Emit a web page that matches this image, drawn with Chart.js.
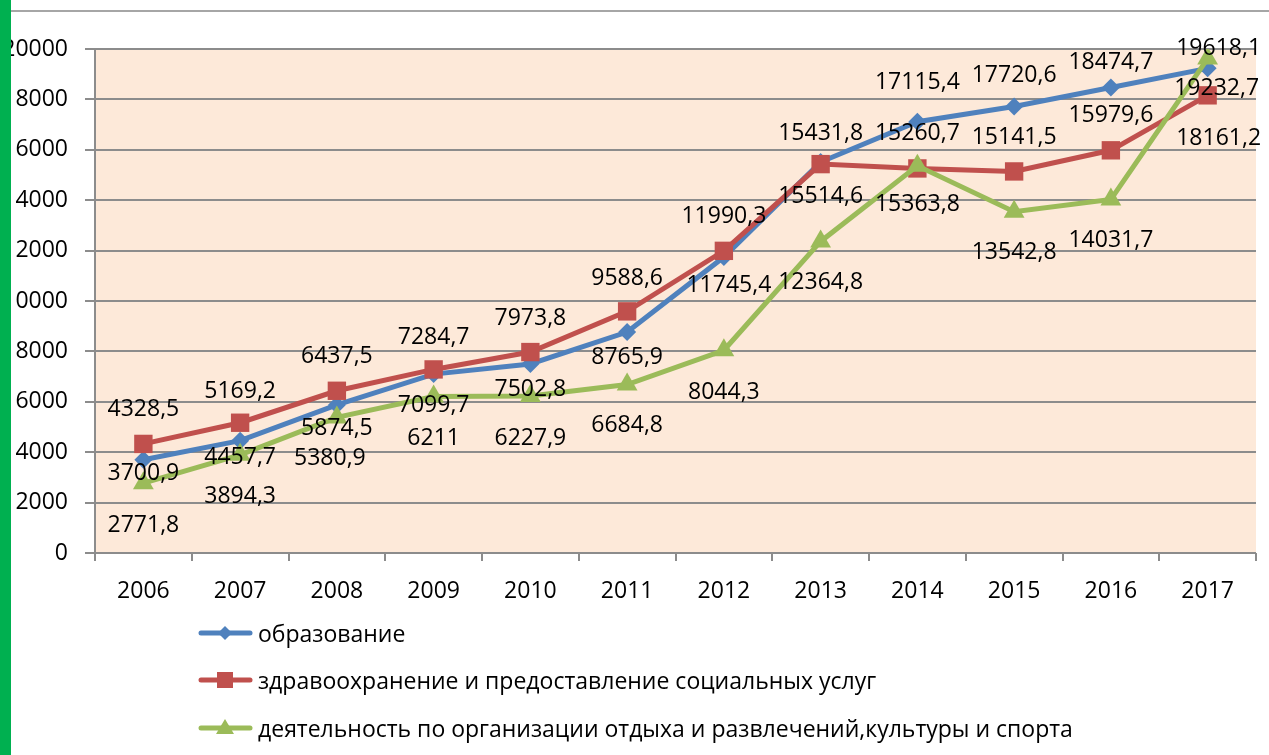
<!DOCTYPE html>
<html><head><meta charset="utf-8">
<script src="https://cdn.jsdelivr.net/npm/chart.js@4"></script>
<style>
html,body{margin:0;padding:0;background:#fff;width:1269px;height:755px;overflow:hidden;font-family:"Open Sans",sans-serif;}
#wrap{position:relative;width:1269px;height:755px;}
#c{position:absolute;left:0;top:0;}
#greenbar{position:absolute;left:0;top:0;width:11px;height:755px;background:#00B050;}
#topline{position:absolute;left:11px;top:10px;width:1258px;height:2px;background:#A6A6A6;}
.leg{position:absolute;left:198px;height:30px;display:flex;align-items:center;font-size:23px;color:#000;white-space:nowrap;}
.leg svg{margin-right:4px;}
</style></head>
<body>
<div id="wrap">
<canvas id="c" width="1269" height="755"></canvas>
<div id="topline"></div>
<div id="greenbar"></div>
<div id="legend"></div>
</div>
<script>
// ---- data ----
const categories = ['2006','2007','2008','2009','2010','2011','2012','2013','2014','2015','2016','2017'];
const seriesNames = [
  'образование',
  'здравоохранение и предоставление социальных услуг',
  'деятельность по организации отдыха и развлечений,культуры и спорта'
];
const educationValues = [3700.9, 4457.7, 5874.5, 7099.7, 7502.8, 8765.9, 11745.4, 15514.6, 17115.4, 17720.6, 18474.7, 19232.7];
const healthValues    = [4328.5, 5169.2, 6437.5, 7284.7, 7973.8, 9588.6, 11990.3, 15431.8, 15260.7, 15141.5, 15979.6, 18161.2];
const cultureValues   = [2771.8, 3894.3, 5380.9, 6211, 6227.9, 6684.8, 8044.3, 12364.8, 15363.8, 13542.8, 14031.7, 19618.1];
const yTickValues = [0, 2000, 4000, 6000, 8000, 10000, 12000, 14000, 16000, 18000, 20000];

// ---- styles ----
const colors = ['#4F81BD', '#C0504D', '#9BBB59'];
const markers = ['rectRot', 'rect', 'triangle'];
const markerRadius = [9, 13, 12];
const FONT = {family: '"Open Sans", sans-serif', size: 23};
// label placement relative to point (dx, dy) in px
const labelShift = [
  {dx: [0,0,0,0,0,0,5,0,0,0,0,9], dy: [14,17,23,31,26,25,28,34,-39,-31,-25,20]},
  {dx: [0,0,0,0,0,0,0,0,0,0,0,11], dy: [-34,-31,-34,-32,-34,-33,-34,-31,-35,-34,-35,43]},
  {dx: [0,0,-7,0,0,0,0,0,0,0,0,11], dy: [42,42,41,42,42,41,42,41,39,41,41,-10]}
];

const fmt = v => String(v).replace('.', ',');

const bgPlugin = {
  id: 'plotBg',
  beforeDraw(chart) {
    const {ctx, chartArea: a} = chart;
    ctx.save();
    ctx.fillStyle = '#FDE9D9';
    ctx.fillRect(a.left, a.top, a.right - a.left, a.bottom - a.top);
    ctx.restore();
  }
};

const labelPlugin = {
  id: 'valueLabels',
  afterDatasetsDraw(chart) {
    const ctx = chart.ctx;
    ctx.save();
    ctx.font = FONT.size + 'px ' + FONT.family;
    ctx.fillStyle = '#000';
    ctx.textAlign = 'center';
    ctx.textBaseline = 'middle';
    chart.data.datasets.forEach((ds, i) => {
      const meta = chart.getDatasetMeta(i);
      meta.data.forEach((pt, j) => {
        const s = labelShift[i];
        ctx.fillText(fmt(ds.data[j]), pt.x + s.dx[j], pt.y + s.dy[j]);
      });
    });
    ctx.restore();
  }
};

const allSeries = [educationValues, healthValues, cultureValues];
const datasets = allSeries.map((vals, i) => ({
  label: seriesNames[i],
  data: vals,
  borderColor: colors[i],
  backgroundColor: colors[i],
  borderWidth: 5,
  pointStyle: markers[i],
  pointRadius: markerRadius[i],
  pointBorderWidth: 0,
  pointBackgroundColor: colors[i],
  tension: 0,
  order: 2 - i
}));

new Chart(document.getElementById('c'), {
  type: 'line',
  data: {labels: categories, datasets},
  options: {
    responsive: false,
    animation: false,
    devicePixelRatio: 1,
    layout: {padding: {left: 0, right: 11, top: 49, bottom: 142}},
    plugins: {legend: {display: false}, tooltip: {enabled: false}},
    scales: {
      x: {
        offset: true,
        grid: {offset: true, drawOnChartArea: false, drawTicks: true, tickLength: 8, color: '#8C8C8C', lineWidth: 2},
        border: {display: false},
        ticks: {font: FONT, color: '#000', padding: 17},
        afterFit(s) { s.height = 60; }
      },
      y: {
        min: 0, max: 20000,
        afterBuildTicks(s) { s.ticks = yTickValues.map(v => ({value: v})); },
        ticks: {font: FONT, color: '#000', padding: 17, callback: v => String(v)},
        grid: {color: '#8C8C8C', lineWidth: 2, tickLength: 10},
        border: {color: '#8C8C8C', width: 2},
        afterFit(s) { s.width = 95; }
      }
    }
  },
  plugins: [bgPlugin, labelPlugin]
});

// legend (HTML)
const legendTops = [618, 665, 713];
const legendEl = document.getElementById('legend');
seriesNames.forEach((name, i) => {
  const row = document.createElement('div');
  row.className = 'leg';
  row.style.top = legendTops[i] + 'px';
  let mk = '';
  if (i === 0) mk = '<polygon points="27,5 34,12 27,19 20,12" fill="' + colors[i] + '"/>';
  if (i === 1) mk = '<rect x="19" y="4" width="16" height="16" fill="' + colors[i] + '"/>';
  if (i === 2) mk = '<polygon points="27,3 36,18 18,18" fill="' + colors[i] + '"/>';
  row.innerHTML = '<svg width="56" height="24" viewBox="0 0 56 24"><line x1="3" y1="12" x2="52" y2="12" stroke="' + colors[i] + '" stroke-width="5" stroke-linecap="round"/>' + mk + '</svg><span>' + name + '</span>';
  legendEl.appendChild(row);
});
</script>
</body></html>
